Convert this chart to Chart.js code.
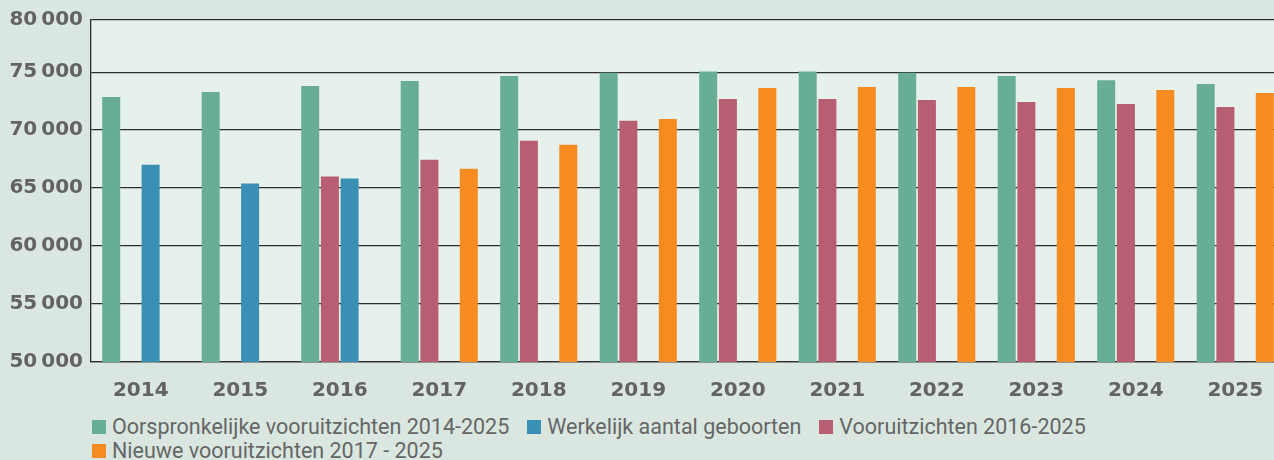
<!DOCTYPE html>
<html>
<head>
<meta charset="utf-8">
<script src="https://cdn.jsdelivr.net/npm/chart.js@4/dist/chart.umd.min.js"></script>
<style>
  html, body { margin: 0; padding: 0; background: #d9e7e0; overflow: hidden; width: 1274px; height: 460px; }
  #wrap { position: absolute; left: 0; top: 0; width: 1290px; height: 400px; }
  #legend { position: absolute; left: 92px; top: 415px; width: 1182px; display: flex; flex-wrap: wrap;
            font-family: Roboto, sans-serif; font-size: 21.5px; color: #666; line-height: 24px; }
  .item { display: flex; align-items: center; margin-right: 18px; white-space: nowrap; }
  .box { width: 14px; height: 14px; margin-right: 6px; }
</style>
</head>
<body>
<div id="wrap"><canvas id="c"></canvas></div>
<div id="legend"></div>
<script>
const categories = ['2014','2015','2016','2017','2018','2019','2020','2021','2022','2023','2024','2025'];
const oorspronkelijk = [72850, 73290, 73800, 74230, 74660, 74940, 75060, 75060, 74940, 74660, 74310, 73970];
const vooruitzichten2016 = [null, null, 66000, 67450, 69080, 70800, 72680, 72680, 72600, 72430, 72260, 72000];
const werkelijk = [67020, 65400, 65820, null, null, null, null, null, null, null, null, null];
const nieuwe2017 = [null, null, null, 66680, 68740, 70970, 73630, 73710, 73710, 73630, 73460, 73200];
const seriesNames = ['Oorspronkelijke vooruitzichten 2014-2025', 'Vooruitzichten 2016-2025', 'Werkelijk aantal geboorten', 'Nieuwe vooruitzichten 2017 - 2025'];
const seriesColors = ['#67ae94', '#b85e73', '#3a90b4', '#f58b21'];
const legendOrder = [0, 2, 1, 3];
const yTickValues = [50000, 55000, 60000, 65000, 70000, 75000, 79500];
const yTickLabels = ['50\u2009000', '55\u2009000', '60\u2009000', '65\u2009000', '70\u2009000', '75\u2009000', '80\u2009000'];

const seriesData = [oorspronkelijk, vooruitzichten2016, werkelijk, nieuwe2017];

const plotBg = {
  id: 'plotBg',
  beforeDraw(chart) {
    const { ctx, chartArea: a } = chart;
    ctx.save();
    ctx.fillStyle = '#e7f1ec';
    ctx.fillRect(a.left, a.top, a.right - a.left, a.bottom - a.top);
    ctx.restore();
  }
};

const gridColor = '#2e2e2e';

new Chart(document.getElementById('c'), {
  type: 'bar',
  data: {
    labels: categories,
    datasets: seriesData.map((d, i) => ({
      label: seriesNames[i],
      data: d,
      backgroundColor: seriesColors[i],
      borderWidth: 0,
      categoryPercentage: 0.792,
      barPercentage: 0.914
    }))
  },
  options: {
    responsive: true,
    maintainAspectRatio: false,
    animation: false,
    layout: { padding: { top: 19, right: 5, left: 0, bottom: 0 } },
    plugins: { legend: { display: false }, tooltip: { enabled: false } },
    scales: {
      x: {
        grid: { display: false, drawTicks: false },
        border: { display: true, color: gridColor, width: 1.3 },
        ticks: { color: '#636363', padding: 17, font: { family: 'DejaVu Sans', weight: 'bold', size: 20 } },
        afterFit(s) { s.height = 38; }
      },
      y: {
        min: 50000,
        max: 79500,
        afterBuildTicks(s) { s.ticks = yTickValues.map(v => ({ value: v })); },
        grid: { color: gridColor, lineWidth: 1.3, drawTicks: false },
        border: { display: true, color: gridColor, width: 1.3 },
        ticks: {
          color: '#636363', padding: 8,
          font: { family: 'DejaVu Sans', weight: 'bold', size: 20 },
          callback(v) { const k = yTickValues.indexOf(v); return k >= 0 ? yTickLabels[k] : ''; }
        },
        afterFit(s) { s.width = 91; }
      }
    }
  },
  plugins: [plotBg]
});

const lg = document.getElementById('legend');
legendOrder.forEach(i => {
  const it = document.createElement('span');
  it.className = 'item';
  const b = document.createElement('span');
  b.className = 'box';
  b.style.background = seriesColors[i];
  const t = document.createElement('span');
  t.textContent = seriesNames[i];
  it.appendChild(b); it.appendChild(t);
  lg.appendChild(it);
});
</script>
</body>
</html>
